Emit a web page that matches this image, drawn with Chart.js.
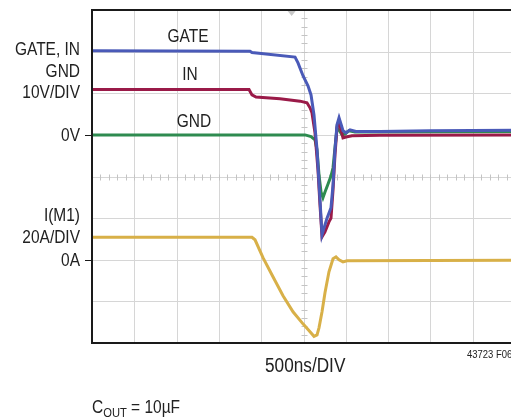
<!DOCTYPE html>
<html>
<head>
<meta charset="utf-8">
<script src="https://cdn.jsdelivr.net/npm/chart.js@4.4.1/dist/chart.umd.min.js"></script>
<style>
  html, body { margin: 0; padding: 0; overflow: hidden; background: #fff; }
  #wrap { position: relative; width: 511px; height: 417px; overflow: hidden; }
  canvas { position: absolute; left: 0; top: 0; }
</style>
</head>
<body>
<div id="wrap"><canvas id="plot" width="530" height="417"></canvas></div>
<script>
// tiempo en ns (500ns/DIV, disparo en el centro)
let gateT = [-2500, -632, -609, -100, -65, -6, 53, 89, 124, 160, 195, 219, 242, 278, 325, 349, 372, 396, 420, 443, 467, 502, 550, 620, 904, 1495, 2500];
let gateV = [20.2, 20.1, 19.8, 18.7, 17.3, 14.2, 11.8, 9.6, 4.8, -3.6, -15.6, -24.0, -22.4, -20.0, -17.5, -12.0, -3.6, 2.4, 4.1, 2.6, 1.0, 0.5, 1.2, 0.8, 0.8, 1.0, 1.1];

let inT = [-2500, -644, -609, -561, -278, -41, 41, 77, 100, 136, 171, 195, 219, 254, 301, 325, 349, 372, 396, 420, 443, 467, 502, 573, 904, 2500];
let inV = [10.9, 10.9, 9.6, 9.1, 8.7, 8.1, 7.7, 6.5, 5.3, 0.5, -8.4, -16.8, -24.5, -23.3, -20.9, -20.0, -13.2, -4.8, 1.7, 3.4, 1.2, -0.7, -0.5, -0.2, -0.1, 0];

let gndT = [-2500, 18, 89, 136, 160, 183, 207, 230, 254, 290, 325, 349, 372, 396, 420, 455, 491, 538, 608, 2500];
let gndV = [0, 0, -0.4, -1.2, -3.6, -9.6, -13.7, -15.1, -13.7, -11.8, -9.9, -7.9, -3.1, 1.7, 1.2, 0, 0.2, 1.0, 0.7, 0.8];

let corrT = [-2500, -609, -573, -479, -361, -242, -124, -6, 77, 124, 160, 183, 219, 254, 301, 349, 384, 420, 467, 514, 2500];
let corrA = [10.8, 10.8, 9.6, 1.0, -8.2, -17.3, -25.0, -30.8, -34.6, -36.8, -36.1, -32.7, -25.0, -15.9, -5.8, 0.5, 1.4, 0, -1.0, -0.5, -0.3];

// etiquetas
let etiquetasIzq = [
  { texto: "GATE, IN", eje: "yV", valor: 20.7 },
  { texto: "GND", eje: "yV", valor: 15.4 },
  { texto: "10V/DIV", eje: "yV", valor: 10.3 },
  { texto: "0V", eje: "yV", valor: 0, marca: true },
  { texto: "I(M1)", eje: "yA", valor: 21.6 },
  { texto: "20A/DIV", eje: "yA", valor: 11.1 },
  { texto: "0A", eje: "yA", valor: 0, marca: true },
];
let etiquetasTrazo = [
  { texto: "GATE", t: -1365, v: 23.4 },
  { texto: "IN", t: -1342, v: 14.3 },
  { texto: "GND", t: -1294, v: 3.1 },
];

let puntos = (xs, ys) => xs.map((x, i) => ({ x: x, y: ys[i] }));

// letra condensada: Liberation Sans comprimida en horizontal
let ESTRECHO = 0.86;
let texto = (ctx, str, x, y, size, align) => {
  ctx.save();
  ctx.font = `${size}px "Liberation Sans", Arial, sans-serif`;
  ctx.textAlign = align;
  ctx.textBaseline = "middle";
  ctx.translate(x, y);
  ctx.scale(ESTRECHO, 1);
  ctx.fillText(str, 0, 0);
  let w = ctx.measureText(str).width * ESTRECHO;
  ctx.restore();
  return w;
};

let reticula = {
  id: "reticula",
  beforeDatasetsDraw(chart) {
    let ctx = chart.ctx;
    let x = chart.scales.x;
    let y = chart.scales.yV;
    let a = chart.chartArea;
    ctx.save();
    ctx.strokeStyle = "#d6d6d6";
    ctx.lineWidth = 1;
    for (let t = -2500; t <= 2500; t += 500) {
      let px = Math.round(x.getPixelForValue(t)) + 0.5;
      ctx.beginPath(); ctx.moveTo(px, a.top); ctx.lineTo(px, a.bottom); ctx.stroke();
    }
    for (let v = -50; v <= 30; v += 10) {
      let py = Math.round(y.getPixelForValue(v)) + 0.5;
      ctx.beginPath(); ctx.moveTo(a.left, py); ctx.lineTo(a.right, py); ctx.stroke();
    }
    // marcas menores en los ejes centrales
    ctx.strokeStyle = "#c4c4c4";
    let cx = Math.round(x.getPixelForValue(0)) + 0.5;
    let cy = Math.round(y.getPixelForValue(-10)) + 0.5;
    for (let t = -2500; t <= 2500; t += 100) {
      let px = Math.round(x.getPixelForValue(t)) + 0.5;
      ctx.beginPath(); ctx.moveTo(px, cy - 3); ctx.lineTo(px, cy + 3); ctx.stroke();
    }
    for (let v = -50; v <= 30; v += 2) {
      let py = Math.round(y.getPixelForValue(v)) + 0.5;
      ctx.beginPath(); ctx.moveTo(cx - 3, py); ctx.lineTo(cx + 3, py); ctx.stroke();
    }
    // marcador de disparo
    let tx = x.getPixelForValue(-140);
    ctx.fillStyle = "#c8c8c8";
    ctx.beginPath();
    ctx.moveTo(tx - 4, a.top + 1); ctx.lineTo(tx + 4, a.top + 1); ctx.lineTo(tx, a.top + 6);
    ctx.closePath(); ctx.fill();
    ctx.restore();
  },
  afterDatasetsDraw(chart) {
    let ctx = chart.ctx;
    let x = chart.scales.x;
    let a = chart.chartArea;
    ctx.save();
    // marco
    ctx.strokeStyle = "#1a1a1a";
    ctx.lineWidth = 2;
    ctx.beginPath();
    ctx.moveTo(a.right + 5, a.top); ctx.lineTo(a.left, a.top);
    ctx.lineTo(a.left, a.bottom); ctx.lineTo(a.right + 5, a.bottom);
    ctx.stroke();

    ctx.fillStyle = "#222";
    ctx.lineWidth = 1;
    etiquetasIzq.forEach((e) => {
      let py = chart.scales[e.eje].getPixelForValue(e.valor);
      texto(ctx, e.texto, a.left - 12, py + 1, 18, "right");
      if (e.marca) {
        let ry = Math.round(py) + 0.5;
        ctx.beginPath(); ctx.moveTo(a.left - 7, ry); ctx.lineTo(a.left, ry); ctx.stroke();
      }
    });
    etiquetasTrazo.forEach((e) => {
      texto(ctx, e.texto, x.getPixelForValue(e.t), chart.scales.yV.getPixelForValue(e.v), 18, "center");
    });
    texto(ctx, "500ns/DIV", x.getPixelForValue(20), a.bottom + 23, 20, "center");
    texto(ctx, "43723 F06", 467, a.bottom + 12, 11, "left");
    let w = texto(ctx, "C", a.left, a.bottom + 65, 18, "left");
    let w2 = texto(ctx, "OUT", a.left + w, a.bottom + 70, 13, "left");
    texto(ctx, " = 10µF", a.left + w + w2, a.bottom + 65, 18, "left");
    ctx.restore();
  },
};

let trazo = (etiqueta, datos, color, eje, orden) => ({
  label: etiqueta,
  data: datos,
  borderColor: color,
  borderWidth: 3,
  pointRadius: 0,
  tension: 0,
  yAxisID: eje,
  order: orden,
});

let config = {
  type: "line",
  data: {
    datasets: [
      trazo("GATE", puntos(gateT, gateV), "#4a5ab8", "yV", 1),
      trazo("IN", puntos(inT, inV), "#9a1a48", "yV", 2),
      trazo("GND", puntos(gndT, gndV), "#2e8b50", "yV", 3),
      trazo("I(M1)", puntos(corrT, corrA), "#d8b048", "yA", 4),
    ],
  },
  options: {
    responsive: false,
    animation: false,
    layout: { padding: { left: 92, top: 10, right: 15, bottom: 74 } },
    plugins: { legend: { display: false }, tooltip: { enabled: false } },
    scales: {
      x: { type: "linear", min: -2500, max: 2500, display: false },
      yV: { type: "linear", min: -50, max: 30, display: false },
      yA: { type: "linear", min: -40, max: 120, display: false },
    },
  },
  plugins: [reticula],
};

let chart1 = new Chart(document.getElementById("plot"), config);
</script>
</body>
</html>
